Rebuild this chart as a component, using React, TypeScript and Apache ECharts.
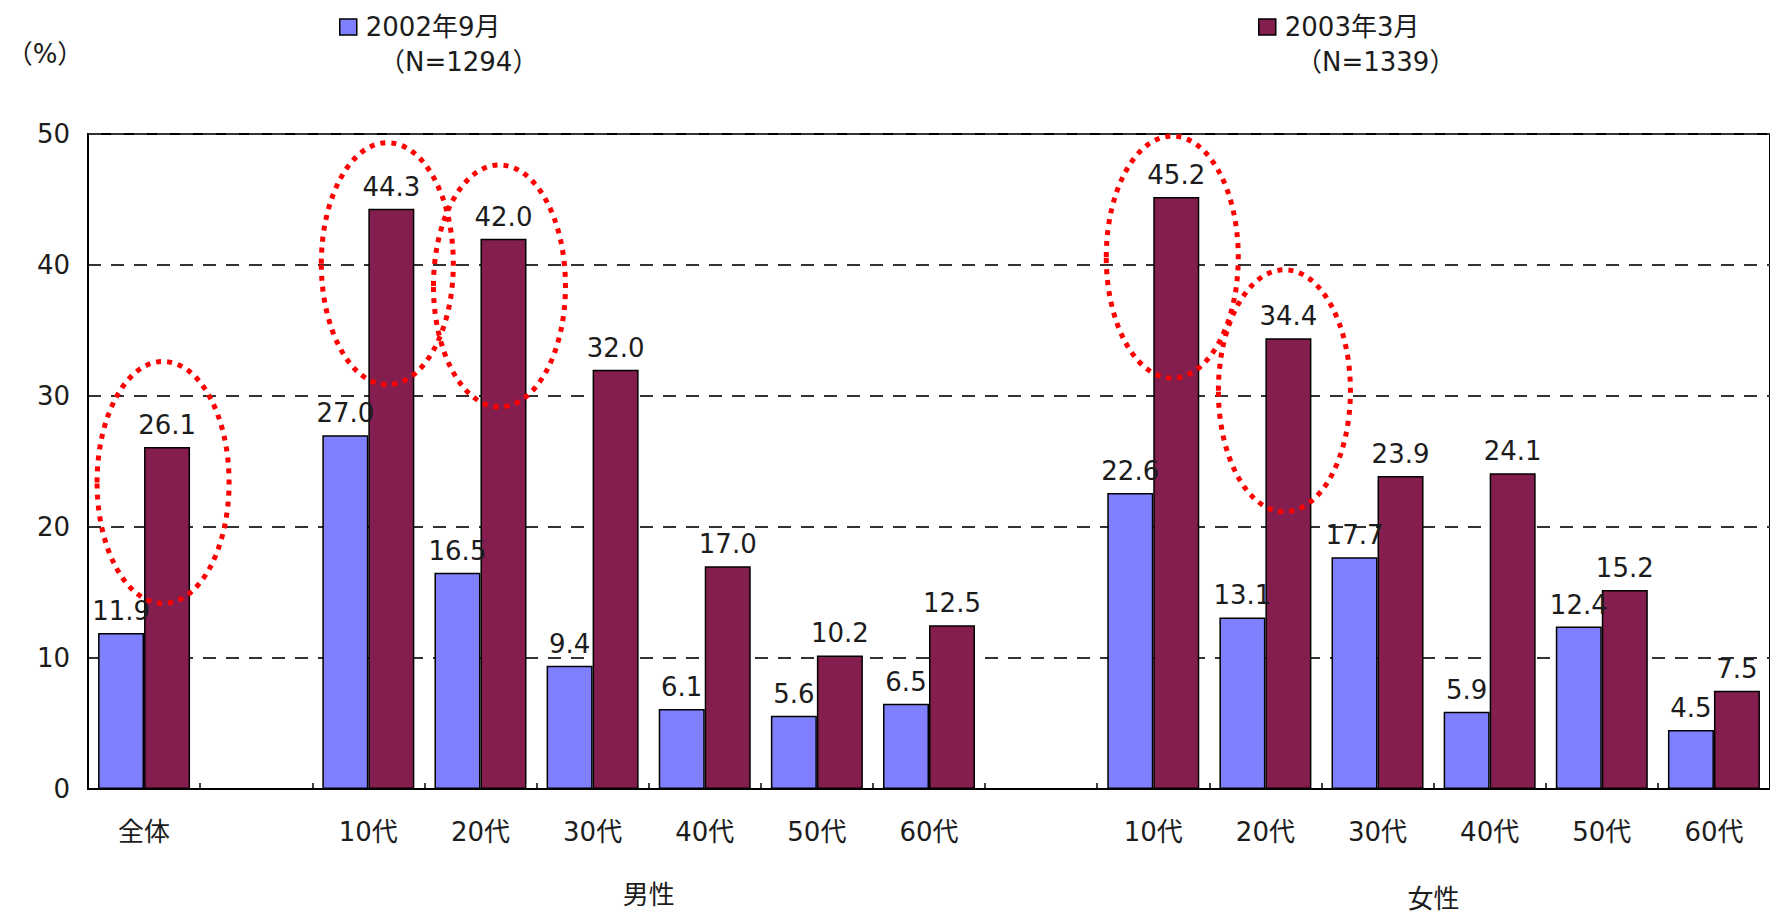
import { useEffect, useRef } from 'react';
import * as echarts from 'echarts';

const categories = ['全体', '', '10代', '20代', '30代', '40代', '50代', '60代', '', '10代', '20代', '30代', '40代', '50代', '60代'];
const seriesNames = ['2002年9月', '2003年3月'];
const legendNotes = ['（N=1294）', '（N=1339）'];
const sep2002 = [11.9, null, 27.0, 16.5, 9.4, 6.1, 5.6, 6.5, null, 22.6, 13.1, 17.7, 5.9, 12.4, 4.5];
const mar2003 = [26.1, null, 44.3, 42.0, 32.0, 17.0, 10.2, 12.5, null, 45.2, 34.4, 23.9, 24.1, 15.2, 7.5];
const yMin = 0;
const yMax = 50;
const yStep = 10;
const yUnit = '（%）';
const groupLabels = ['男性', '女性'];
const groupFirst = [2, 9];
const groupLast = [7, 14];
const highlightIndex = [0, 2, 3, 9, 10];
const highlightCenter = [23.4, 40.1, 38.4, 40.6, 30.4];

const FONT = "'DejaVu Sans', 'Noto Sans CJK JP', sans-serif";
const TXT = '#1c1c1c';

export default function App() {
  const ref = useRef<HTMLDivElement>(null);
  useEffect(() => {
    document.body.style.margin = '0';
    const chart = echarts.init(ref.current!, undefined, { renderer: 'svg' });
    const barStyle = (color: string) => ({ color, borderColor: '#000', borderWidth: 1.5 });
    const label = {
      show: true,
      position: 'top' as const,
      distance: 9,
      fontFamily: FONT,
      fontSize: 26,
      color: TXT,
      formatter: (p: any) => (p.value == null ? '' : Number(p.value).toFixed(1)),
    };
    chart.setOption({
      animation: false,
      backgroundColor: '#fff',
      textStyle: { fontFamily: FONT },
      legend: [
        {
          data: [seriesNames[0]],
          left: 334,
          top: 9,
          icon: 'rect',
          itemWidth: 17,
          itemHeight: 16,
          itemStyle: { borderColor: '#000', borderWidth: 1.5 },
          textStyle: { fontFamily: FONT, fontSize: 26, color: TXT, padding: [0, 0, 0, 4] },
        },
        {
          data: [seriesNames[1]],
          left: 1253,
          top: 9,
          icon: 'rect',
          itemWidth: 17,
          itemHeight: 16,
          itemStyle: { borderColor: '#000', borderWidth: 1.5 },
          textStyle: { fontFamily: FONT, fontSize: 26, color: TXT, padding: [0, 0, 0, 4] },
        },
      ],
      grid: {
        left: 88,
        top: 134,
        width: 1689,
        height: 655,
        show: true,
        borderColor: '#000',
        borderWidth: 2,
        backgroundColor: '#fff',
      },
      xAxis: {
        type: 'category',
        data: categories,
        axisLine: { show: true, lineStyle: { color: '#000', width: 2 } },
        axisTick: { show: true, inside: true, length: 6, lineStyle: { color: '#000', width: 1.5 } },
        axisLabel: { fontFamily: FONT, fontSize: 26, color: TXT, margin: 30, interval: 0 },
        splitLine: { show: false },
      },
      yAxis: {
        type: 'value',
        min: yMin,
        max: yMax,
        interval: yStep,
        name: yUnit,
        nameLocation: 'end',
        nameGap: 80,
        nameTextStyle: { fontFamily: FONT, fontSize: 26, color: TXT, align: 'center', verticalAlign: 'middle', padding: [0, 86, 0, 0] },
        axisLine: { show: true, lineStyle: { color: '#000', width: 2 } },
        axisTick: { show: false },
        axisLabel: { fontFamily: FONT, fontSize: 26, color: TXT, margin: 18 },
        splitLine: { show: true, lineStyle: { color: '#333', width: 2, type: [13, 10] } },
      },
      series: [
        {
          name: seriesNames[0],
          type: 'bar',
          data: sep2002,
          barWidth: 46,
          barGap: '0%',
          itemStyle: barStyle('#8080FF'),
          label,
        },
        {
          name: seriesNames[1],
          type: 'bar',
          data: mar2003,
          barWidth: 46,
          barGap: '0%',
          itemStyle: barStyle('#841E4E'),
          label,
        },
      ],
    });

    const px = (i: number, v: number) => chart.convertToPixel({ gridIndex: 0 }, [i, v]) as number[];
    const graphics: any[] = [];
    highlightIndex.forEach((ci, k) => {
      const [cx, cy] = px(ci, highlightCenter[k]);
      graphics.push({
        type: 'ellipse',
        z: 100,
        shape: { cx: cx + 19, cy, rx: 66, ry: 121 },
        style: { fill: 'none', stroke: '#ff0000', lineWidth: 5, lineDash: [5, 6] },
        silent: true,
      });
    });
    const groupY = [895, 899];
    groupLabels.forEach((g, k) => {
      const x1 = px(groupFirst[k], 0)[0];
      const x2 = px(groupLast[k], 0)[0];
      graphics.push({
        type: 'text',
        x: (x1 + x2) / 2,
        y: groupY[k],
        style: { text: g, fontFamily: FONT, fontSize: 26, fill: TXT, align: 'center', verticalAlign: 'middle' },
      });
    });
    const noteX = [379, 1296];
    legendNotes.forEach((n, k) => {
      graphics.push({
        type: 'text',
        x: noteX[k],
        y: 62,
        style: { text: n, fontFamily: FONT, fontSize: 26, fill: TXT, align: 'left', verticalAlign: 'middle' },
      });
    });
    chart.setOption({ graphic: graphics });

    return () => chart.dispose();
  }, []);
  return <div ref={ref} style={{ width: 1770, height: 914, overflow: 'hidden' }} />;
}
